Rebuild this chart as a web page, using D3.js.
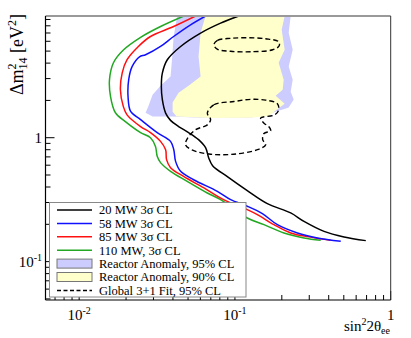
<!DOCTYPE html>
<html>
<head>
<meta charset="utf-8">
<script src="https://cdn.jsdelivr.net/npm/d3@7"></script>
<style>
  body { margin: 0; background: #fff; }
  svg { display: block; font-family: "Liberation Serif", "DejaVu Serif", serif; }
</style>
</head>
<body>
<svg id="chart" width="411" height="338"></svg>
<script>
// sensitivity curves, [sin^2 2theta, dm^2 (eV^2)]
const mw20 = [[0.106, 9.6], [0.0809, 8.41], [0.0602, 6.99], [0.0448, 5.45], [0.0368, 4.26], [0.0342, 3.32],
    [0.0337, 2.59], [0.0342, 2.025], [0.0359, 1.58], [0.0386, 1.38], [0.0435, 1.23], [0.0504, 1.10],
    [0.0584, 0.964], [0.0648, 0.831], [0.0678, 0.690], [0.0719, 0.595], [0.0894, 0.485], [0.120, 0.374],
    [0.1615, 0.2936], [0.228, 0.247], [0.2776, 0.2113], [0.3733, 0.1755], [0.5017, 0.1582], [0.692, 0.1477]];
const mw58 = [[0.0648, 9.6], [0.0519, 8.15], [0.0404, 6.56], [0.0333, 5.45], [0.0267, 4.67], [0.0244, 4.50],
    [0.0219, 3.76], [0.0208, 2.94], [0.0206, 2.15], [0.0214, 1.63], [0.0248, 1.40], [0.0317, 1.10],
    [0.0386, 0.934], [0.0405, 0.800], [0.0416, 0.644], [0.0448, 0.535], [0.0543, 0.458], [0.0771, 0.369],
    [0.0939, 0.316], [0.120, 0.280], [0.150, 0.244], [0.1873, 0.1987], [0.2518, 0.1704], [0.3385, 0.1553],
    [0.478, 0.1458]];
const mw85 = [[0.0559, 9.6], [0.0404, 7.90], [0.0287, 6.56], [0.0240, 5.45], [0.0203, 4.26], [0.0189, 3.34],
    [0.0184, 2.44], [0.0192, 1.79], [0.0203, 1.53], [0.0248, 1.23], [0.0287, 1.10], [0.0333, 0.934],
    [0.0359, 0.800], [0.0364, 0.665], [0.0386, 0.573], [0.0468, 0.487], [0.0629, 0.395], [0.0846, 0.316],
    [0.120, 0.2626], [0.1393, 0.2393], [0.178, 0.1987], [0.228, 0.1704], [0.3066, 0.1576], [0.412, 0.1485]];
const mw110 = [[0.0470, 9.6], [0.0333, 7.90], [0.0248, 6.46], [0.0193, 5.125], [0.0166, 4.03], [0.01566, 2.94],
    [0.0159, 2.15], [0.0171, 1.59], [0.0198, 1.35], [0.0248, 1.10], [0.0287, 1.0], [0.0309, 0.851],
    [0.0317, 0.707], [0.0333, 0.629], [0.0386, 0.535], [0.0494, 0.444], [0.0665, 0.358], [0.0809, 0.316],
    [0.120, 0.225], [0.1536, 0.1987], [0.2064, 0.1704], [0.2776, 0.1553], [0.3555, 0.1485]];

// reactor anomaly allowed regions
const ra95 = [[0.0426, 9.6], [0.0404, 6.56], [0.0396, 4.52], [0.0386, 3.12], [0.0333, 2.63], [0.0296, 2.22],
    [0.0279, 1.81], [0.0267, 1.59], [0.0296, 1.48], [0.0398, 1.48], [0.0602, 1.45], [0.1262, 1.45],
    [0.1826, 1.62], [0.2214, 1.75], [0.2384, 2.03], [0.228, 2.35], [0.2349, 2.94], [0.2214, 3.76],
    [0.2349, 5.125], [0.2214, 7.03], [0.228, 9.6]];
const ra90 = [[0.0648, 9.6], [0.0602, 7.03], [0.0584, 4.52], [0.0602, 3.12], [0.0504, 2.63], [0.0435, 2.31],
    [0.0398, 1.92], [0.0398, 1.62], [0.0422, 1.48], [0.0698, 1.44], [0.1262, 1.45], [0.1647, 1.50],
    [0.1854, 1.68], [0.2086, 1.88], [0.1826, 2.18], [0.2025, 2.44], [0.2056, 2.94], [0.1909, 4.03],
    [0.2086, 5.125], [0.1996, 7.43], [0.2086, 9.6]];

// global 3+1 fit, 95% CL islands
const globUpper = [[0.0733, 5.62], [0.0774, 6.11], [0.0939, 6.34], [0.1207, 6.41], [0.1575, 6.29], [0.1909, 5.95],
    [0.1924, 5.52], [0.1747, 5.125], [0.1262, 4.94], [0.0939, 4.98], [0.0774, 5.17]];
const globLower = [[0.0665, 1.58], [0.0733, 1.845], [0.0985, 1.96], [0.1262, 2.04], [0.1575, 2.01], [0.1873, 1.88],
    [0.1909, 1.68], [0.180, 1.53], [0.1463, 1.44], [0.1536, 1.31], [0.1647, 1.23], [0.1696, 1.14],
    [0.1536, 1.08], [0.1507, 0.964], [0.1575, 0.878], [0.1393, 0.800], [0.0981, 0.736], [0.0698, 0.736],
    [0.0535, 0.793], [0.0482, 0.878], [0.0497, 0.994], [0.0559, 1.16], [0.0665, 1.27], [0.0698, 1.40]];

const xMajor = [0.01, 0.1, 1];
const xMajorText = [["10", "-2"], ["10", "-1"], ["1", ""]];
const yMajor = [0.1, 1];
const yMajorText = [["10", "-1"], ["1", ""]];

const legendItems = [
    { label: "20 MW 3\u03c3 CL", type: "line", color: "#000000" },
    { label: "58 MW 3\u03c3 CL", type: "line", color: "#1010ff" },
    { label: "85 MW 3\u03c3 CL", type: "line", color: "#ff1010" },
    { label: "110 MW, 3\u03c3 CL", type: "line", color: "#22a822" },
    { label: "Reactor Anomaly, 95% CL", type: "box", color: "#ccccff" },
    { label: "Reactor Anomaly, 90% CL", type: "box", color: "#ffffcc" },
    { label: "Global 3+1 Fit,  95% CL", type: "dash", color: "#000000" }
];

const svg = d3.select('#chart');
const mLeft = 45.5, mRight = 390.7, mTop = 16, mBottom = 300;

const x = d3.scaleLog().domain([0.00608, 1]).range([mLeft, mRight]);
const y = d3.scaleLog().domain([0.049, 9.6]).range([mBottom, mTop]);

svg.append('clipPath').attr('id', 'plotclip')
    .append('rect')
    .attr('x', mLeft).attr('y', mTop)
    .attr('width', mRight - mLeft).attr('height', mBottom - mTop);

const plot = svg.append('g').attr('clip-path', 'url(#plotclip)');

const area = d3.line().x(d => x(d[0])).y(d => y(d[1])).curve(d3.curveLinearClosed);
const closed = d3.line().x(d => x(d[0])).y(d => y(d[1])).curve(d3.curveCatmullRomClosed.alpha(0.5));
const curveLine = d3.line().x(d => x(d[0])).y(d => y(d[1])).curve(d3.curveCatmullRom.alpha(0.5));

plot.append('path').attr('d', area(ra95)).attr('fill', '#ccccff');
plot.append('path').attr('d', area(ra90)).attr('fill', '#ffffcc');

[globUpper, globLower].forEach(g => {
    plot.append('path')
        .attr('d', closed(g))
        .attr('fill', 'none')
        .attr('stroke', '#000')
        .attr('stroke-width', 1.4)
        .attr('stroke-dasharray', '5,3');
});

[[mw110, legendItems[3].color], [mw85, legendItems[2].color], [mw58, legendItems[1].color], [mw20, legendItems[0].color]]
    .forEach(([data, color]) => {
        plot.append('path')
            .attr('d', curveLine(data))
            .attr('fill', 'none')
            .attr('stroke', color)
            .attr('stroke-width', 1.5);
    });

// ticks (inward)
function logTicks(domain) {
    let ticks = [];
    for (let e = -3; e <= 1; e++) {
        for (let m = 1; m < 10; m++) {
            let v = m * Math.pow(10, e);
            if (v >= domain[0] && v <= domain[1] * 1.0001) ticks.push(v);
        }
    }
    return ticks;
}
const xTicks = logTicks(x.domain());
const yTicks = logTicks(y.domain());

svg.append('g').selectAll('line').data(xTicks).join('line')
    .attr('x1', d => x(d)).attr('x2', d => x(d))
    .attr('y1', mBottom).attr('y2', d => mBottom - (xMajor.includes(d) ? 9 : 5))
    .attr('stroke', '#000').attr('stroke-width', 1);

svg.append('g').selectAll('line').data(yTicks).join('line')
    .attr('y1', d => y(d)).attr('y2', d => y(d))
    .attr('x1', mLeft).attr('x2', d => mLeft + (yMajor.includes(d) ? 9 : 5))
    .attr('stroke', '#000').attr('stroke-width', 1);

// frame
svg.append('line').attr('x1', mLeft).attr('x2', mRight).attr('y1', mTop).attr('y2', mTop)
    .attr('stroke', '#999').attr('stroke-width', 2);
svg.append('line').attr('x1', mRight).attr('x2', mRight).attr('y1', mTop).attr('y2', mBottom)
    .attr('stroke', '#333').attr('stroke-width', 1);
svg.append('line').attr('x1', mLeft).attr('x2', mLeft).attr('y1', mTop).attr('y2', mBottom)
    .attr('stroke', '#000').attr('stroke-width', 1.2);
svg.append('line').attr('x1', mLeft).attr('x2', mRight).attr('y1', mBottom).attr('y2', mBottom)
    .attr('stroke', '#000').attr('stroke-width', 1.2);

// tick labels
xMajor.forEach((v, i) => {
    let t = svg.append('text')
        .attr('x', x(v))
        .attr('y', 320)
        .attr('text-anchor', 'middle')
        .style('font-size', '15px');
    t.append('tspan').text(xMajorText[i][0]);
    if (xMajorText[i][1]) t.append('tspan').attr('dy', -6).style('font-size', '10px').text(xMajorText[i][1]);
});
yMajor.forEach((v, i) => {
    let t = svg.append('text')
        .attr('x', 42)
        .attr('y', y(v) + 5)
        .attr('text-anchor', 'end')
        .style('font-size', '15px');
    t.append('tspan').text(yMajorText[i][0]);
    if (yMajorText[i][1]) t.append('tspan').attr('dy', -6).style('font-size', '10px').text(yMajorText[i][1]);
});

// axis titles
let xt = svg.append('text')
    .attr('x', 390)
    .attr('y', 331)
    .attr('text-anchor', 'end')
    .style('font-size', '15px');
xt.append('tspan').text('sin');
xt.append('tspan').attr('dy', -6).style('font-size', '10px').text('2');
xt.append('tspan').attr('dy', 6).text('2\u03b8');
xt.append('tspan').attr('dy', 3).style('font-size', '10px').text('ee');

let yt = svg.append('text')
    .attr('transform', 'translate(23,14) rotate(-90)')
    .attr('text-anchor', 'end')
    .style('font-size', '18px');
yt.append('tspan').text('\u0394m');
yt.append('tspan').attr('dy', -7).style('font-size', '12px').text('2');
yt.append('tspan').attr('dx', -6).attr('dy', 11).style('font-size', '12px').text('14');
yt.append('tspan').attr('dy', -4).text(' [eV');
yt.append('tspan').attr('dy', -7).style('font-size', '12px').text('2');
yt.append('tspan').attr('dy', 7).text(']');

// legend
const lg = svg.append('g');
lg.append('rect')
    .attr('x', 49.5).attr('y', 202.5)
    .attr('width', 196.5).attr('height', 94.5)
    .attr('fill', '#fff')
    .attr('stroke', '#888')
    .attr('stroke-width', 1);

legendItems.forEach((d, i) => {
    let cy = 210 + i * 13.4;
    if (d.type === 'box') {
        lg.append('rect')
            .attr('x', 57).attr('y', cy - 4.5)
            .attr('width', 35).attr('height', 9)
            .attr('fill', d.color)
            .attr('stroke', '#777');
    } else {
        lg.append('line')
            .attr('x1', 57).attr('x2', 92)
            .attr('y1', cy).attr('y2', cy)
            .attr('stroke', d.color)
            .attr('stroke-width', 1.5)
            .attr('stroke-dasharray', d.type === 'dash' ? '4,2.5' : null);
    }
    lg.append('text')
        .attr('x', 99)
        .attr('y', cy + 4.3)
        .style('font-size', '12.5px')
        .text(d.label);
});
</script>
</body>
</html>
